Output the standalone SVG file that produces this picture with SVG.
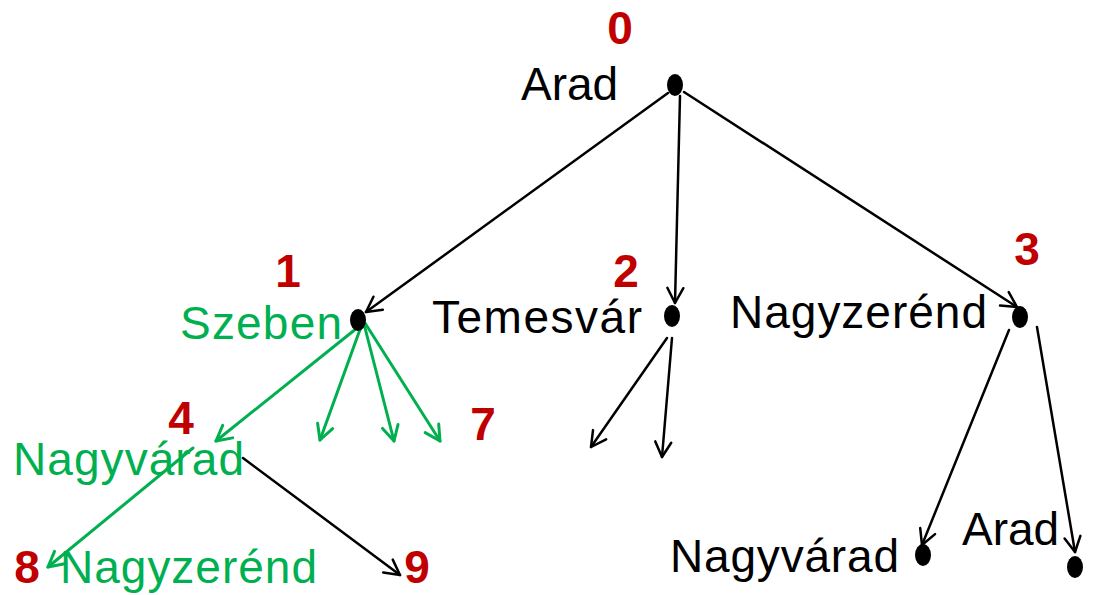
<svg xmlns="http://www.w3.org/2000/svg" width="1098" height="595" viewBox="0 0 1098 595">
  <style>
    .lbl { font-family: "Liberation Sans", Arial, sans-serif; font-size: 46px; }
    .blk { fill: #000; }
    .grn { fill: #00B050; }
    .num { font-family: "Liberation Sans", Arial, sans-serif; font-size: 46px; font-weight: bold; fill: #C00000; text-anchor: middle; }
    .dot { fill: #000; }
    .e { fill: none; stroke-width: 2.5; stroke-linecap: round; }
    .eb { stroke: #000; marker-end: url(#ab); }
    .eg { stroke: #00B050; stroke-width: 3; marker-end: url(#ag); }
  </style>
  <defs>
    <marker id="ab" markerUnits="userSpaceOnUse" markerWidth="30" markerHeight="30" refX="0" refY="0" viewBox="-20 -15 30 30" orient="auto" overflow="visible">
      <path d="M -15 -8 L 0 0 L -15 8" fill="none" stroke="#000" stroke-width="2.5" stroke-linecap="round" stroke-linejoin="round"/>
    </marker>
    <marker id="ag" markerUnits="userSpaceOnUse" markerWidth="30" markerHeight="30" refX="0" refY="0" viewBox="-20 -15 30 30" orient="auto" overflow="visible">
      <path d="M -15 -8 L 0 0 L -15 8" fill="none" stroke="#00B050" stroke-width="3" stroke-linecap="round" stroke-linejoin="round"/>
    </marker>
  </defs>

  <g id="connectors">
    <!-- from Arad (root) -->
    <line class="e eb" x1="668" y1="93" x2="366" y2="312"/>
    <line class="e eb" x1="680" y1="96" x2="675" y2="303"/>
    <line class="e eb" x1="684" y1="92" x2="1017" y2="307"/>
    <!-- from Szeben -->
    <line class="e eg" x1="362" y1="324" x2="216" y2="441"/>
    <line class="e eg" x1="362" y1="324" x2="320" y2="440"/>
    <line class="e eg" x1="364" y1="324" x2="394" y2="441"/>
    <line class="e eg" x1="365" y1="323" x2="440" y2="441"/>
    <!-- from Temesvár -->
    <line class="e eb" x1="667" y1="338" x2="591" y2="447"/>
    <line class="e eb" x1="672" y1="338" x2="662" y2="457"/>
    <!-- from Nagyvárad -->
    <line class="e eg" x1="193" y1="448" x2="48" y2="567"/>
    <line class="e eb" x1="243" y1="458" x2="400" y2="575"/>
    <!-- from Nagyzerénd -->
    <line class="e eb" x1="1009" y1="330" x2="922" y2="545"/>
    <line class="e eb" x1="1037" y1="327" x2="1075" y2="552"/>
  </g>

  <g id="node-arad">
    <text class="num" x="620" y="44">0</text>
    <text class="lbl blk" x="521" y="100">Arad</text>
    <ellipse class="dot" cx="675" cy="85" rx="8" ry="11"/>
  </g>

  <g id="node-szeben">
    <text class="num" x="288" y="287">1</text>
    <text class="lbl grn" x="180" y="339" textLength="162" lengthAdjust="spacing">Szeben</text>
    <ellipse class="dot" cx="358" cy="320" rx="8" ry="11"/>
  </g>

  <g id="node-temesvar">
    <text class="num" x="626" y="287">2</text>
    <text class="lbl blk" x="432" y="333" textLength="210" lengthAdjust="spacing">Temesvár</text>
    <ellipse class="dot" cx="672" cy="316" rx="8" ry="11"/>
  </g>

  <g id="node-nagyzerend">
    <text class="num" x="1027" y="265">3</text>
    <text class="lbl blk" x="730" y="328" textLength="257" lengthAdjust="spacing">Nagyzerénd</text>
    <ellipse class="dot" cx="1020" cy="317" rx="8" ry="11"/>
  </g>

  <g id="node-nagyvarad">
    <text class="num" x="181" y="434">4</text>
    <text class="lbl grn" x="13" y="475" textLength="231" lengthAdjust="spacing">Nagyvárad</text>
  </g>

  <g id="node-7">
    <text class="num" x="483" y="440">7</text>
  </g>

  <g id="node-nagyzerend-2">
    <text class="num" x="27" y="583">8</text>
    <text class="lbl grn" x="60" y="583" textLength="257" lengthAdjust="spacing">Nagyzerénd</text>
  </g>

  <g id="node-9">
    <text class="num" x="417" y="583">9</text>
  </g>

  <g id="node-nagyvarad-2">
    <text class="lbl blk" x="670" y="572" textLength="229" lengthAdjust="spacing">Nagyvárad</text>
    <ellipse class="dot" cx="923" cy="555" rx="8" ry="11"/>
  </g>

  <g id="node-arad-2">
    <text class="lbl blk" x="962" y="545">Arad</text>
    <ellipse class="dot" cx="1075" cy="567" rx="8" ry="11"/>
  </g>
</svg>
